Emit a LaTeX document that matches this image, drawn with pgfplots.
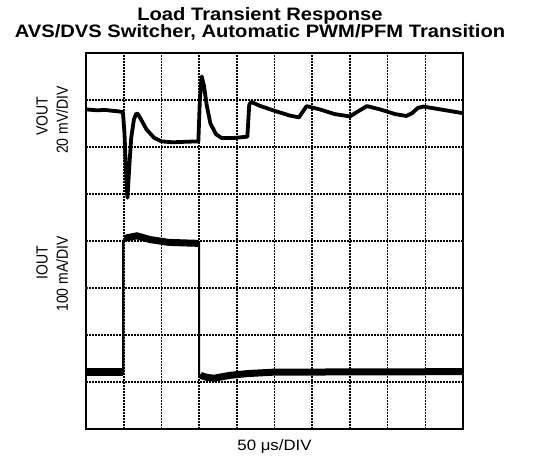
\documentclass[border=0pt]{standalone}
\usepackage{pgfplots}
\pgfplotsset{compat=1.18}
\usepackage{fontspec}
\setmainfont{Liberation Sans}
\begin{document}
\begin{tikzpicture}[x=1pt,y=1pt]
\useasboundingbox (-86,-28) rectangle (463,429);
\begin{axis}[
  at={(0,0)}, anchor=south west,
  scale only axis, width=377pt, height=376pt,
  xmin=0, xmax=10, ymin=0, ymax=8,
  xtick={1,...,9}, ytick={1,...,7},
  xticklabels={}, yticklabels={},
  major tick length=0pt,
  grid=major,
  major grid style={black, line width=1.6pt, dash pattern=on 1.6pt off 1.4pt},
  axis line style={black, line width=2.6pt},
  clip=true,
]
% VOUT trace
\addplot[black, line width=3.8pt, line join=round] coordinates {
(0,6.80) (0.15,6.79) (0.3,6.78) (0.5,6.79) (0.7,6.77) (0.85,6.76) (0.98,6.74)
(1.02,6.3) (1.06,5.5) (1.1,4.92) (1.15,5.6) (1.2,6.2) (1.27,6.58) (1.33,6.71) (1.38,6.70)
(1.45,6.6) (1.6,6.38) (1.8,6.2) (2.0,6.12) (2.3,6.1) (2.6,6.11) (2.98,6.12)
(3.02,7.0) (3.07,7.5) (3.13,7.3) (3.2,6.9) (3.3,6.5) (3.45,6.27) (3.6,6.19)
(3.9,6.19) (4.28,6.22) (4.33,6.9) (4.38,6.96) (4.6,6.88) (5.0,6.77) (5.4,6.67)
(5.65,6.63) (5.75,6.75) (5.85,6.87) (6.2,6.8) (6.6,6.7) (7.0,6.65) (7.2,6.75)
(7.45,6.87) (7.8,6.8) (8.2,6.7) (8.5,6.66) (8.65,6.72) (8.8,6.83) (8.95,6.86)
(9.4,6.8) (10,6.72)
};
% IOUT trace (thin edges)
\addplot[black, line width=2.2pt, line join=round] coordinates {
(0,1.21) (0.99,1.21) (0.99,4.0) (1.05,4.08) (1.35,4.13) (1.7,4.05) (2.2,3.98)
(3.0,3.96) (3.0,1.15) (3.2,1.1) (3.4,1.08) (3.8,1.14) (4.3,1.18) (5,1.21) (10,1.22)
};
% IOUT noisy bands
\addplot[black, line width=8pt] coordinates {(0,1.21) (0.97,1.21)};
\addplot[black, line width=7pt] coordinates {
(1.04,4.06) (1.35,4.11) (1.7,4.03) (2.2,3.97) (2.97,3.95)};
\addplot[black, line width=7pt] coordinates {
(3.04,1.14) (3.2,1.1) (3.4,1.08) (3.8,1.14) (4.3,1.18) (5,1.21) (10,1.22)};
\end{axis}
\node[font=\bfseries\fontsize{18}{18}\selectfont, xscale=1.12, anchor=base]
  at (174,408) {Load Transient Response};
\node[font=\bfseries\fontsize{18}{18}\selectfont, xscale=1.12, anchor=base]
  at (174,391) {AVS/DVS Switcher, Automatic PWM/PFM Transition};
\node[font=\fontsize{14}{16}\selectfont, rotate=90, yscale=1.15, anchor=center] at (-44,313) {VOUT};
\node[font=\fontsize{14}{16}\selectfont, rotate=90, yscale=1.15, anchor=center] at (-24,309) {20 mV/DIV};
\node[font=\fontsize{14}{16}\selectfont, rotate=90, yscale=1.15, anchor=center] at (-44,166) {IOUT};
\node[font=\fontsize{14}{16}\selectfont, rotate=90, yscale=1.15, anchor=center] at (-24,155) {100 mA/DIV};
\node[font=\fontsize{15}{17}\selectfont, xscale=1.12, anchor=center] at (188.5,-18) {50 μs/DIV};
\end{tikzpicture}
\end{document}
